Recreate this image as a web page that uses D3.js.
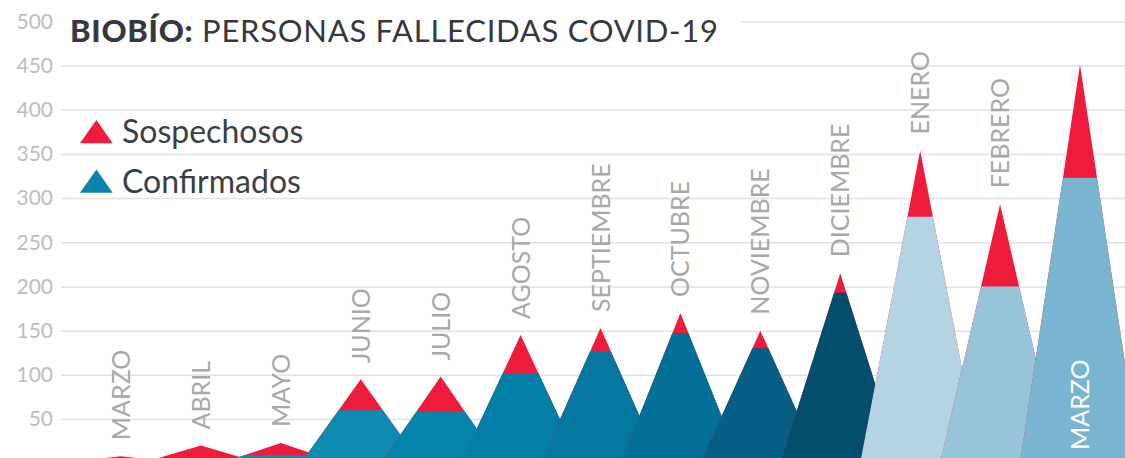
<!DOCTYPE html>
<html>
<head>
<meta charset="utf-8">
<script src="https://cdn.jsdelivr.net/npm/d3@7"></script>
<style>
  body { margin: 0; background: #fff; }
  svg { display: block; font-family: "Lato", sans-serif; }
</style>
</head>
<body>
<svg id="chart" width="1125" height="458"></svg>
<script>
// meses (marzo 2020 - marzo 2021)
var meses = ["MARZO", "ABRIL", "MAYO", "JUNIO", "JULIO", "AGOSTO", "SEPTIEMBRE",
             "OCTUBRE", "NOVIEMBRE", "DICIEMBRE", "ENERO", "FEBRERO", "MARZO"];
var confirmados = [1, 3, 9, 60, 58, 102, 126, 147, 130, 193, 279, 200, 323];
var sospechosos = [7, 17, 14, 35, 40, 43, 27, 23, 20, 22, 75, 93, 128];
var yTicks = [50, 100, 150, 200, 250, 300, 350, 400, 450, 500];
var colores = ["#0e8bb0", "#0e8bb0", "#0e8bb0", "#0e8bb0", "#0585ab", "#017fa6", "#03779e",
               "#026f97", "#055f84", "#034d6d", "#b4d4e4", "#98c4da", "#79b4d1"];
var rojo = "#ee1b3c";

var svg = d3.select("#chart");
var W = 1125;

var y = d3.scaleLinear().domain([0, 500]).range([463.2, 21.4]);
var x = d3.scalePoint().domain(d3.range(meses.length)).range([121, 1080]);
var halfBase = 60;

// grid + y labels
var yAxis = d3.axisLeft(y).tickValues(yTicks).tickSize(-(W - 61)).tickPadding(8);
var gAxis = svg.append("g")
  .attr("transform", "translate(61,0)")
  .call(yAxis);
gAxis.select(".domain").remove();
gAxis.selectAll(".tick line").attr("stroke", "#e2e2e2").attr("stroke-width", 1.5);
gAxis.selectAll(".tick text")
  .attr("fill", "#bdbdc1")
  .style("font-size", "21px")
  .style("font-family", "Lato, sans-serif");

// mountains
var y0 = y(0);
meses.forEach(function(m, i) {
  var cx = x(i);
  var total = confirmados[i] + sospechosos[i];
  var ya = y(total);
  var yc = y(confirmados[i]);
  var hw = halfBase * (yc - ya) / (y0 - ya);
  var g = svg.append("g").attr("class", "mes");
  g.append("path")
    .attr("d", "M" + (cx - halfBase) + "," + y0 + "L" + cx + "," + ya + "L" + (cx + halfBase) + "," + y0 + "Z")
    .attr("fill", rojo);
  g.append("path")
    .attr("d", "M" + (cx - halfBase) + "," + y0 + "L" + (cx - hw) + "," + yc +
               "L" + (cx + hw) + "," + yc + "L" + (cx + halfBase) + "," + y0 + "Z")
    .attr("fill", colores[i]);
});

// month labels
meses.forEach(function(m, i) {
  var cx = x(i);
  var total = confirmados[i] + sospechosos[i];
  var last = i === meses.length - 1;
  var ly = last ? 450 : y(total) - 16;
  svg.append("text")
    .attr("transform", "translate(" + cx + "," + ly + ") rotate(-90)")
    .attr("dy", "0.36em")
    .attr("text-anchor", "start")
    .attr("fill", last ? "#ffffff" : "#a8a8ac")
    .style("font-size", "25px")
    .text(m);
});

// title
svg.append("rect").attr("x", 62).attr("y", 0).attr("width", 680).attr("height", 46).attr("fill", "#fff");
var title = svg.append("text")
  .attr("x", 70).attr("y", 42)
  .attr("fill", "#33393f")
  .style("font-size", "31px");
title.append("tspan").style("font-weight", 900).text("BIOBÍO:");
title.append("tspan").text(" PERSONAS FALLECIDAS COVID-19");
// stretch spacing so the title ends where the original does
var tw = title.node().getComputedTextLength();
var nChars = "BIOBÍO: PERSONAS FALLECIDAS COVID-19".length;
title.style("letter-spacing", ((648 - tw) / (nChars - 1)) + "px");

// legend
var legend = [{ label: "Sospechosos", color: rojo }, { label: "Confirmados", color: "#0b84aa" }];
legend.forEach(function(d, i) {
  var by = 143.3 + i * 49.4;
  svg.append("path")
    .attr("d", "M80," + by + "L96.4," + (by - 23.3) + "L112.7," + by + "Z")
    .attr("fill", d.color);
  svg.append("text")
    .attr("x", 122).attr("y", by)
    .attr("fill", "#3a3f44")
    .style("font-size", "32px")
    .text(d.label);
});
</script>
</body>
</html>
